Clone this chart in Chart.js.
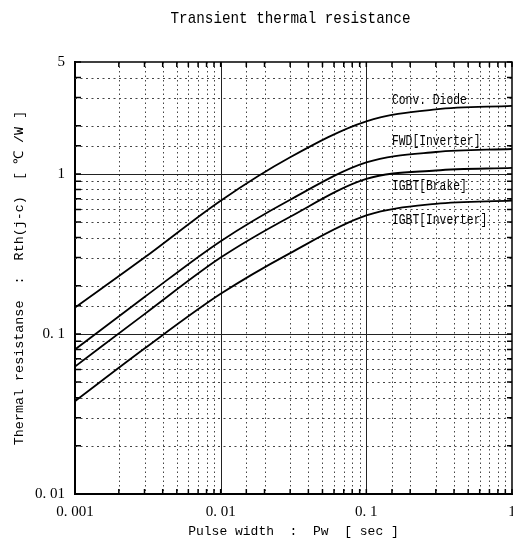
<!DOCTYPE html>
<html>
<head>
<meta charset="utf-8">
<title>Transient thermal resistance</title>
<script src="https://cdn.jsdelivr.net/npm/chart.js@4/dist/chart.umd.min.js"></script>
<style>
    html, body { margin: 0; padding: 0; background: #fff; overflow: hidden; }
    #chart { display: block; }
</style>
</head>
<body>
<canvas id="chart" width="513" height="543"></canvas>
<script>
// --- DATOS ---
const pulseWidths  = [0.001, 0.003, 0.01, 0.03, 0.1, 0.3, 1];
const convDiode    = [0.146, 0.30, 0.68, 1.27, 2.13, 2.53, 2.66];
const fwdInverter  = [0.080, 0.170, 0.38, 0.69, 1.18, 1.37, 1.43];
const igbtBrake    = [0.0625, 0.133, 0.30, 0.54, 0.93, 1.05, 1.09];
const igbtInverter = [0.038, 0.081, 0.178, 0.32, 0.55, 0.65, 0.68];
const seriesNames = ['Conv. Diode', 'FWD[Inverter]', 'IGBT[Brake]', 'IGBT[Inverter]'];

const xTickValues = [0.001, 0.01, 0.1, 1];
const xTickLabels = ['0. 001', '0. 01', '0. 1', '1'];
const yTickValues = [0.01, 0.1, 1, 5];
const yTickLabels = ['0. 01', '0. 1', '1', '5'];

document.addEventListener('DOMContentLoaded', () => {

    const ctx = document.getElementById('chart');

    function sameValue(a, b) {
        return Math.abs(Math.log10(a) - Math.log10(b)) < 1e-6;
    }

    function labelFor(values, labels, v) {
        for (let i = 0; i < values.length; i++) {
            if (sameValue(values[i], v)) return labels[i];
        }
        return '';
    }

    function isDecade(v) {
        const l = Math.log10(v);
        return Math.abs(l - Math.round(l)) < 1e-6;
    }

    // texto estrecho (la fuente original es condensada)
    function narrowText(c, text, x, y, size, squeeze, align) {
        c.save();
        c.font = size + 'px "Liberation Mono", monospace';
        c.textBaseline = 'middle';
        c.textAlign = align;
        c.translate(x, y);
        c.scale(squeeze, 1);
        c.fillText(text, 0, 0);
        c.restore();
    }

    // --- CUADRICULA: decadas solidas, resto punteado ---
    const gridPlugin = {
        id: 'logGrid',
        beforeDatasetsDraw(chart) {
            const c = chart.ctx;
            const area = chart.chartArea;
            const xs = chart.scales.x;
            const ys = chart.scales.y;
            c.save();
            c.lineWidth = 1;
            xs.ticks.forEach(t => {
                const px = Math.round(xs.getPixelForValue(t.value)) + 0.5;
                if (px <= area.left + 1 || px >= area.right - 1) return;
                if (isDecade(t.value)) {
                    c.setLineDash([]);
                    c.strokeStyle = '#222';
                } else {
                    c.setLineDash([1.5, 3]);
                    c.strokeStyle = '#444';
                }
                c.beginPath();
                c.moveTo(px, area.top);
                c.lineTo(px, area.bottom);
                c.stroke();
            });
            ys.ticks.forEach(t => {
                const py = Math.round(ys.getPixelForValue(t.value)) + 0.5;
                if (py <= area.top + 1 || py >= area.bottom - 1) return;
                if (isDecade(t.value)) {
                    c.setLineDash([]);
                    c.strokeStyle = '#222';
                } else {
                    c.setLineDash([2, 3.5]);
                    c.strokeStyle = '#444';
                }
                c.beginPath();
                c.moveTo(area.left, py);
                c.lineTo(area.right, py);
                c.stroke();
            });
            c.restore();
        },
        afterDatasetsDraw(chart) {
            const c = chart.ctx;
            const area = chart.chartArea;
            const xs = chart.scales.x;
            const ys = chart.scales.y;
            const len = 5;
            c.save();
            c.setLineDash([]);
            c.strokeStyle = '#000';
            // marco superior y derecho
            c.lineWidth = 1.5;
            c.beginPath();
            c.moveTo(area.left, area.top);
            c.lineTo(area.right, area.top);
            c.lineTo(area.right, area.bottom);
            c.stroke();
            // marcas hacia dentro
            xs.ticks.forEach(t => {
                const px = xs.getPixelForValue(t.value);
                c.beginPath();
                c.moveTo(px, area.bottom);
                c.lineTo(px, area.bottom - len);
                c.moveTo(px, area.top);
                c.lineTo(px, area.top + len);
                c.stroke();
            });
            ys.ticks.forEach(t => {
                const py = ys.getPixelForValue(t.value);
                c.beginPath();
                c.moveTo(area.left, py);
                c.lineTo(area.left + len + 1, py);
                c.moveTo(area.right, py);
                c.lineTo(area.right - len, py);
                c.stroke();
            });

            // etiquetas de las curvas
            const labelAt = [[0.15, 2.9], [0.15, 1.6], [0.15, 0.84], [0.15, 0.51]];
            c.fillStyle = '#000';
            seriesNames.forEach((name, i) => {
                narrowText(c, name, xs.getPixelForValue(labelAt[i][0]), ys.getPixelForValue(labelAt[i][1]), 14, 0.81, 'left');
            });

            // titulo
            narrowText(c, 'Transient thermal resistance', (area.left + area.right) / 2 - 3, 18, 17, 0.84, 'center');
            c.restore();
        }
    };

    function makeSet(label, data) {
        return {
            label: label,
            data: data.map((v, i) => ({ x: pulseWidths[i], y: v })),
            borderColor: '#000',
            borderWidth: 1.8,
            pointRadius: 0,
            fill: false,
            cubicInterpolationMode: 'monotone'
        };
    }

    const chartConfig = {
        type: 'line',
        data: {
            datasets: [
                makeSet(seriesNames[0], convDiode),
                makeSet(seriesNames[1], fwdInverter),
                makeSet(seriesNames[2], igbtBrake),
                makeSet(seriesNames[3], igbtInverter)
            ]
        },
        options: {
            responsive: false,
            animation: false,
            devicePixelRatio: 1,
            layout: { padding: { left: 0, top: 62, right: 1, bottom: 0 } },
            plugins: {
                legend: { display: false },
                tooltip: { enabled: false }
            },
            scales: {
                x: {
                    type: 'logarithmic',
                    min: 0.001,
                    max: 1,
                    grid: { display: false, drawTicks: false, tickLength: 0 },
                    border: { display: true, color: '#000', width: 2 },
                    ticks: {
                        autoSkip: false,
                        maxRotation: 0,
                        padding: 9,
                        color: '#000',
                        font: { family: '"Liberation Serif", serif', size: 15 },
                        callback: v => labelFor(xTickValues, xTickLabels, v)
                    },
                    title: {
                        display: true,
                        text: 'Pulse width  :  Pw  [ sec ]',
                        color: '#000',
                        font: { family: '"Liberation Mono", monospace', size: 13 },
                        padding: { top: 2, bottom: 4 }
                    },
                    afterFit: s => {
                        s.height = 49;
                        s.paddingLeft = 0;
                        s.paddingRight = 0;
                    }
                },
                y: {
                    type: 'logarithmic',
                    min: 0.01,
                    max: 5,
                    grid: { display: false, drawTicks: false, tickLength: 0 },
                    border: { display: true, color: '#000', width: 2 },
                    ticks: {
                        autoSkip: false,
                        padding: 10,
                        color: '#000',
                        font: { family: '"Liberation Serif", serif', size: 15 },
                        callback: v => labelFor(yTickValues, yTickLabels, v)
                    },
                    title: {
                        display: true,
                        text: 'Thermal resistanse  :  Rth(j-c)  [ \u2103 /W ]',
                        color: '#000',
                        font: { family: '"Liberation Mono", monospace', size: 13.4 },
                        padding: { top: 11, bottom: 0 }
                    },
                    afterFit: s => {
                        s.width = 75;
                        s.paddingTop = 0;
                        s.paddingBottom = 0;
                    }
                }
            }
        },
        plugins: [gridPlugin]
    };

    new Chart(ctx, chartConfig);
});
</script>
</body>
</html>
